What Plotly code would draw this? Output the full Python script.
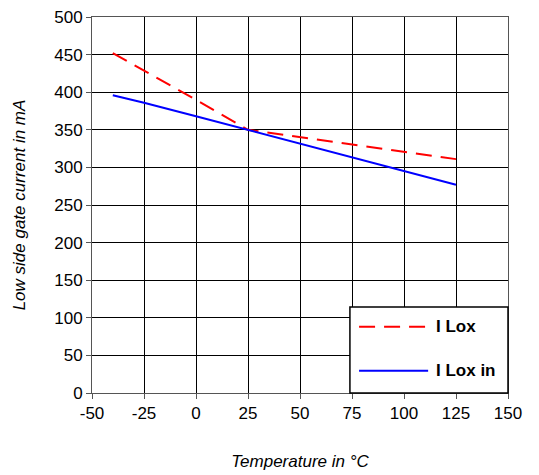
import plotly.graph_objects as go

temps = [-40, -25, 0, 25, 50, 75, 100, 125]
i_lox = [452, 429, 390, 350, 340, 330, 320, 311]
i_lox_in = [396, 386, 368, 350, 332, 314, 296, 277]
x_ticks = [-50, -25, 0, 25, 50, 75, 100, 125, 150]
x_labels = ["-50", "-25", "0", "25", "50", "75", "100", "125", "150"]
y_ticks = [0, 50, 100, 150, 200, 250, 300, 350, 400, 450, 500]
names = ["I Lox", "I Lox in"]
colors = ["#ff0000", "#0000ff"]
dash_red = "16px,9px"

fig = go.Figure()
fig.add_trace(go.Scatter(x=temps, y=i_lox, mode="lines", name=names[0],
                         line=dict(color=colors[0], width=2, dash=dash_red), showlegend=False))
fig.add_trace(go.Scatter(x=temps, y=i_lox_in, mode="lines", name=names[1],
                         line=dict(color=colors[1], width=2), showlegend=False))

font = "Liberation Sans, Arial, sans-serif"
axis_common = dict(showgrid=True, gridcolor="black", gridwidth=1, showline=True,
                   linecolor="#555", linewidth=1, mirror=True, ticks="outside",
                   ticklen=5, tickcolor="#555", zeroline=False, automargin=False,
                   ticklabeloverflow="allow",
                   tickfont=dict(family=font, size=17, color="black"))

fig.update_xaxes(range=[-50, 150], tickvals=x_ticks, ticktext=x_labels, **axis_common,
                 title=dict(text="<i>Temperature in °C</i>", font=dict(family=font, size=17, color="black"), standoff=32))
fig.update_yaxes(range=[0, 500], tickvals=y_ticks, **axis_common,
                 title=dict(text="<i>Low side gate current in mA</i>", font=dict(family=font, size=17, color="black"), standoff=24))

# custom legend box
shapes = [dict(type="rect", xref="paper", yref="paper", x0=0.620, x1=1.0, y0=0.0, y1=0.229,
               line=dict(color="black", width=1.5), fillcolor="white", layer="above")]
ys = [0.176, 0.059]
for i in range(2):
    shapes.append(dict(type="line", xref="paper", yref="paper", x0=0.642, x1=0.808, y0=ys[i], y1=ys[i],
                       line=dict(color=colors[i], width=2, dash=dash_red if i == 0 else "solid"), layer="above"))
annotations = [dict(xref="paper", yref="paper", x=0.822, y=ys[i], text="<b>" + names[i] + "</b>",
                    showarrow=False, xanchor="left", yanchor="middle",
                    font=dict(family=font, size=17, color="black")) for i in range(2)]

# page body adds an 8px margin, so the figure is shrunk by that amount
fig.update_layout(width=531, height=467, margin=dict(l=84, r=31, t=9, b=82),
                  plot_bgcolor="white", paper_bgcolor="white",
                  shapes=shapes, annotations=annotations, showlegend=False)
fig.write_html("out.html")
